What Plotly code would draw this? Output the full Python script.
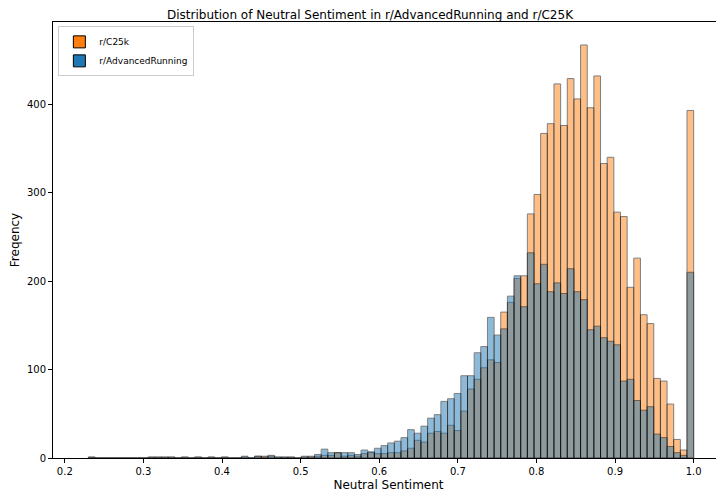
import numpy as np
import plotly.graph_objects as go

# ── histogram bins: 91 bins from 0.23 to 1.0 ──
bin_start = 0.23
bin_end = 1.0
n_bins = 91

# counts per bin
c25k = [1, 0, 0, 0, 0, 0, 0, 0, 0, 1,
        1, 1, 1, 0, 1, 0, 1, 0, 1, 0,
        1, 0, 0, 1, 0, 2, 2, 2, 1, 1,
        1, 0, 1, 2, 2, 3, 3, 6, 2, 3,
        2, 5, 6, 5, 5, 6, 6, 8, 11, 20,
        18, 28, 30, 28, 37, 31, 53, 78, 89, 102,
        111, 108, 165, 176, 203, 206, 276, 298, 367, 378,
        423, 376, 429, 406, 467, 396, 432, 333, 340, 278,
        273, 193, 226, 162, 152, 90, 87, 61, 21, 9,
        393]

advanced = [1, 0, 0, 0, 0, 0, 0, 0, 0, 1,
            1, 1, 1, 0, 1, 0, 1, 0, 1, 0,
            1, 0, 0, 2, 0, 2, 1, 3, 1, 1,
            1, 0, 2, 1, 4, 10, 6, 6, 6, 6,
            4, 9, 7, 11, 14, 17, 19, 23, 32, 28,
            36, 45, 49, 64, 67, 73, 93, 93, 119, 126,
            159, 139, 146, 183, 206, 171, 232, 197, 219, 188,
            198, 186, 214, 188, 179, 145, 149, 136, 132, 128,
            87, 89, 65, 54, 58, 27, 23, 13, 6, 3,
            210]

edges = np.linspace(bin_start, bin_end, n_bins + 1)
width = edges[1] - edges[0]

fig = go.Figure()
fig.add_trace(go.Bar(
    x=edges[:-1], y=c25k, width=width, offset=0, name="r/C25k",
    marker=dict(color="#ff7f0e", opacity=0.5, line=dict(color="black", width=1)),
))
fig.add_trace(go.Bar(
    x=edges[:-1], y=advanced, width=width, offset=0, name="r/AdvancedRunning",
    marker=dict(color="#1f77b4", opacity=0.5, line=dict(color="black", width=1)),
))

axis = dict(showline=True, linecolor="black", linewidth=1, mirror=True,
            ticks="outside", ticklen=4, tickcolor="black", showgrid=False,
            zeroline=False, tickfont=dict(size=10, color="black"))

fig.update_layout(
    barmode="overlay",
    width=724, height=496,
    margin=dict(l=37, r=7, t=14, b=46),
    paper_bgcolor="white", plot_bgcolor="white",
    font=dict(family="DejaVu Sans", size=10, color="black"),
    title=dict(text="Distribution of Neutral Sentiment in r/AdvancedRunning and r/C25K",
               x=0.5, xanchor="center", y=0.995, yanchor="top", font=dict(size=12)),
    xaxis=dict(axis, title=dict(text="Neutral Sentiment", standoff=4),
               range=[0.185, 1.0386], tickvals=[0.2, 0.3, 0.4, 0.5, 0.6, 0.7, 0.8, 0.9, 1.0],
               tickformat=".1f"),
    yaxis=dict(axis, title=dict(text="Freqency", standoff=4),
               range=[0, 493], tickvals=[0, 100, 200, 300, 400]),
    legend=dict(x=0.008, y=0.99, xanchor="left", yanchor="top",
                bordercolor="#cccccc", borderwidth=1, bgcolor="rgba(255,255,255,0.8)",
                traceorder="normal", font=dict(size=9), tracegroupgap=0,
                itemwidth=30),
    showlegend=True,
)

fig.write_html("out.html")
